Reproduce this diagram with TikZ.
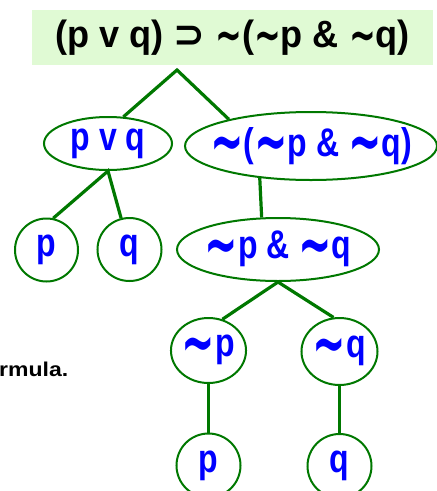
\documentclass[tikz,border=0pt]{standalone}
\usepackage{fontspec}
\setmainfont{Liberation Sans}
\newfontfamily\symfont{DejaVu Sans}
\newfontfamily\nodefont[FakeStretch=0.8]{Liberation Sans}
\newfontfamily\headfont[FakeStretch=0.95]{Liberation Sans}
\newfontfamily\sidefont[FakeStretch=1.15]{Liberation Sans}
\usetikzlibrary{shapes.geometric}
\definecolor{treegreen}{RGB}{0,120,0}
\definecolor{titlegreen}{RGB}{224,250,212}
\newcommand{\nega}{\raisebox{-0.22em}{\scalebox{1}[1.7]{\symfont\bfseries ∼}}}
\newcommand{\tnega}{\raisebox{-0.12em}{\scalebox{1}[1.5]{\symfont\bfseries\fontsize{32}{36}\selectfont ∼}}}
\newcommand{\hook}{{\symfont\fontsize{38}{40}\selectfont ⊃}}
\begin{document}
\begin{tikzpicture}[x=1pt,y=-1pt,
    leaf/.style={draw=treegreen,line width=2pt,ellipse,inner sep=0pt,
      text=blue,font=\nodefont\fontsize{40}{44}\selectfont\bfseries},
    branch/.style={draw=treegreen,line width=3.2pt}]
  \useasboundingbox (0,0) rectangle (437,491);
  \node[fill=titlegreen,minimum width=401pt,minimum height=55pt,inner sep=0pt,
    font=\headfont\fontsize{38}{40}\selectfont\bfseries] (top) at (232.5,37.5)
    {(p v q) \hook\ \tnega(\tnega p \& \tnega q)};
  \coordinate (apex) at (177,70);
  \node[leaf,minimum width=128pt,minimum height=53pt] (pvq) at (108,143.5) {p v q};
  \node[leaf,inner xsep=-20pt,minimum width=252pt,minimum height=68pt] (neg1)
    at (311,146) {\nega(\nega p \& \nega q)};
  \node[leaf,minimum width=63pt,minimum height=63pt] (p1) at (46.5,250) {p};
  \node[leaf,minimum width=64pt,minimum height=63pt] (q1) at (129.5,249.5) {q};
  \node[leaf,inner xsep=-12pt,minimum width=202pt,minimum height=63pt] (conj)
    at (278,249.5) {\nega p \& \nega q};
  \node[leaf,minimum width=73pt,minimum height=65pt] (np) at (208.5,350.5) {\nega p};
  \node[leaf,minimum width=76pt,minimum height=67pt] (nq) at (339.5,351.5) {\nega q};
  \node[leaf,minimum width=64pt,minimum height=64pt] (p2) at (208.5,465.5) {p};
  \node[leaf,minimum width=64pt,minimum height=64pt] (q2) at (339.5,466) {q};
  \draw[branch] (pvq.60) -- (apex) -- (neg1.162);
  \draw[branch] (p1.78) -- (pvq.south) -- (q1.105);
  \draw[branch] (neg1.212) -- (conj.117);
  \draw[branch] (np.66) -- (conj.south) -- (nq.100);
  \draw[branch] (np.south) -- (p2.north);
  \draw[branch] (nq.south) -- (q2.north);
  \node[anchor=west,inner sep=0pt,font=\sidefont\fontsize{20}{24}\selectfont\bfseries]
    (label) at (-1,369) {rmula.};
\end{tikzpicture}
\end{document}
